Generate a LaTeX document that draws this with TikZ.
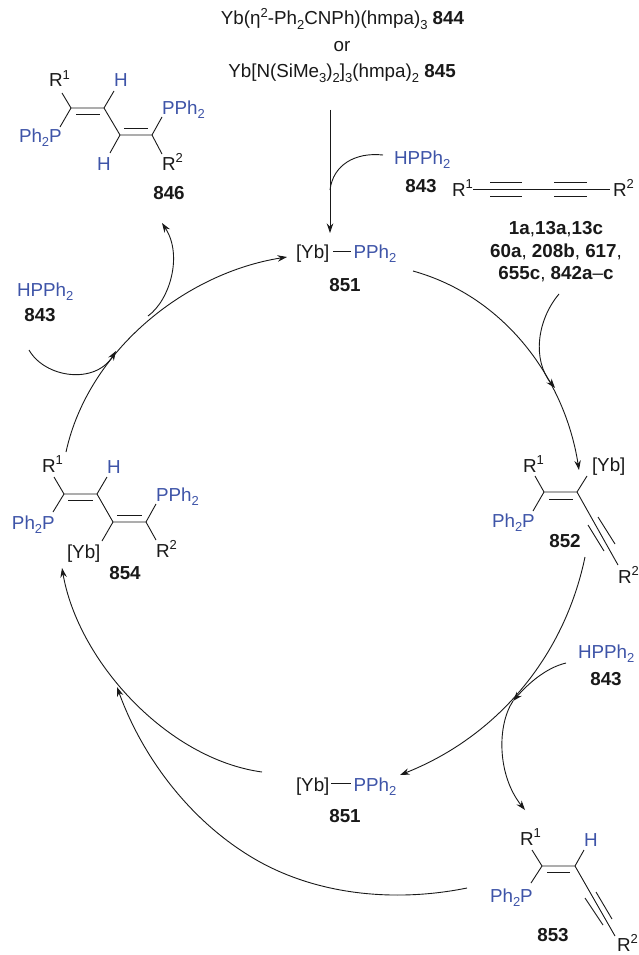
\documentclass[tikz,border=0pt]{standalone}
\usepackage{fontspec}
\setmainfont{Liberation Sans}
\usetikzlibrary{arrows.meta}
\definecolor{pblue}{RGB}{62,84,168}
\definecolor{ink}{RGB}{25,25,25}
\newcommand{\Dn}[1]{\raisebox{-0.22em}{\fontsize{13}{13}\selectfont #1}}
\newcommand{\Up}[1]{\raisebox{0.42em}{\fontsize{13}{13}\selectfont #1}}
\newcommand{\PPh}{PPh\Dn{2}}
\newcommand{\PhP}{Ph\Dn{2}P}
\newcommand{\HPPh}{HPPh\Dn{2}}
\tikzset{
  txt/.style={inner sep=0pt,outer sep=0pt,anchor=base west,text=ink,font=\fontsize{18.8}{21}\selectfont},
  ctr/.style={txt,anchor=base},
  phos/.style={txt,text=pblue},
  cmpd/.style={txt,anchor=base,font=\fontsize{18.8}{21}\selectfont\bfseries},
  bond/.style={draw=ink,line width=0.9pt},
  cyc/.style={draw=ink,line width=0.9pt,-{Stealth[length=9.5pt,width=6.5pt]}},
  plain/.style={draw=ink,line width=0.9pt}
}
\begin{document}
\begin{tikzpicture}[x=1pt,y=-1pt]
\useasboundingbox (0,0) rectangle (638,955);
\fill[white] (0,0) rectangle (638,955);

% ---------- reagents at top
\node[ctr] (catA) at (342.5,25) {Yb(η\Up{2}-Ph\Dn{2}CNPh)(hmpa)\Dn{3} \textbf{844}};
\node[ctr] (orword) at (342,51.5) {or};
\node[ctr] (catB) at (342,78) {Yb[N(SiMe\Dn{3})\Dn{2}]\Dn{3}(hmpa)\Dn{2} \textbf{845}};

% ---------- 846
\coordinate (a1) at (71,108); \coordinate (a2) at (104,108);
\coordinate (a3) at (120,135); \coordinate (a4) at (152,135);
\coordinate (a1r) at (62,93); \coordinate (a1p) at (60,127);
\coordinate (a2h) at (114,91); \coordinate (a3h) at (110,153);
\coordinate (a4p) at (162,117); \coordinate (a4r) at (162,154);
\coordinate (a5) at (76,114); \coordinate (a6) at (100,114);
\coordinate (a7) at (124,128); \coordinate (a8) at (148,128);
\node[txt] (aR1) at (49,87) {R\Up{1}};
\node[phos] (aH1) at (114,87) {H};
\node[phos] (aH2) at (97,170) {H};
\node[phos] (aP1) at (19,142.5) {\PhP};
\node[phos] (aP2) at (162,114) {\PPh};
\node[txt] (aR2) at (162,170) {R\Up{2}};
\node[cmpd] (l846) at (169,199) {846};
\draw[bond] (a1r)--(a1)--(a2)--(a3)--(a4)--(a4r);
\draw[bond] (a1)--(a1p); \draw[bond] (a2)--(a2h); \draw[bond] (a3)--(a3h); \draw[bond] (a4)--(a4p);
\draw[bond] (a5)--(a6); \draw[bond] (a7)--(a8);

% ---------- 851 top
\node[txt] (ybT) at (296,258) {[Yb]};
\node[phos] (pT) at (353.5,258) {\PPh};
\node[cmpd] (l851a) at (345,291) {851};
\coordinate (ybTe) at (333,251); \coordinate (pTw) at (351,251);
\draw[bond] (ybTe)--(pTw);

% ---------- 843 top right and diyne
\node[phos] (hpR) at (394,164) {\HPPh};
\node[cmpd] (l843a) at (421,192) {843};
\node[txt] (dR1) at (452,196) {R\Up{1}};
\node[txt] (dR2) at (613,196) {R\Up{2}};
\coordinate (d1) at (473,189); \coordinate (d2) at (610,189);
\draw[bond] (d1)--(d2);
\coordinate (t1) at (490,182); \coordinate (t2) at (522,182);
\coordinate (t3) at (490,196); \coordinate (t4) at (522,196);
\coordinate (t5) at (554,182); \coordinate (t6) at (587,182);
\coordinate (t7) at (554,196); \coordinate (t8) at (587,196);
\draw[bond] (t1)--(t2); \draw[bond] (t3)--(t4); \draw[bond] (t5)--(t6); \draw[bond] (t7)--(t8);
\node[cmpd] (lsub1) at (556,234.5) {1a\textmd{,}13a\textmd{,}13c};
\node[cmpd] (lsub2) at (556,257) {60a\textmd{,} 208b\textmd{,} 617\textmd{,}};
\node[cmpd] (lsub3) at (556,279.5) {655c\textmd{,} 842a\textmd{–}c};

% ---------- 852
\coordinate (b1) at (544,492); \coordinate (b2) at (577,492);
\coordinate (b1r) at (535,476); \coordinate (b1p) at (533,511);
\coordinate (b2y) at (587,476); \coordinate (b3) at (618,565);
\coordinate (b4) at (549,499); \coordinate (b5) at (573,499);
\coordinate (b6) at (588,525); \coordinate (b7) at (604,551);
\coordinate (b8) at (598,517); \coordinate (b9) at (615,544);
\node[txt] (bR1) at (523,472) {R\Up{1}};
\node[txt] (bYb) at (592,471) {[Yb]};
\node[phos] (bP) at (492,527) {\PhP};
\node[txt] (bR2) at (618,583) {R\Up{2}};
\node[cmpd] (l852) at (565,547) {852};
\draw[bond] (b1r)--(b1)--(b2)--(b2y); \draw[bond] (b1)--(b1p); \draw[bond] (b2)--(b3);
\draw[bond] (b4)--(b5); \draw[bond] (b6)--(b7); \draw[bond] (b8)--(b9);

% ---------- 843 lower right
\node[phos] (hpS) at (578,658) {\HPPh};
\node[cmpd] (l843b) at (606,685) {843};

% ---------- 851 lower
\node[txt] (ybB) at (296,791) {[Yb]};
\node[phos] (pB) at (353.5,791) {\PPh};
\node[cmpd] (l851b) at (345,822) {851};
\coordinate (ybBe) at (331,783); \coordinate (pBw) at (351,783);
\draw[bond] (ybBe)--(pBw);

% ---------- 853
\coordinate (c1) at (542,866); \coordinate (c2) at (575,866);
\coordinate (c1r) at (532,850); \coordinate (c1p) at (531,883);
\coordinate (c2h) at (584,850); \coordinate (c3) at (615,936);
\coordinate (c4) at (547,872); \coordinate (c5) at (570,872);
\coordinate (c6) at (585,898); \coordinate (c7) at (603,925);
\coordinate (c8) at (596,892); \coordinate (c9) at (612,919);
\node[txt] (cR1) at (520,845) {R\Up{1}};
\node[phos] (cH) at (584,846) {H};
\node[phos] (cP) at (490,902) {\PhP};
\node[txt] (cR2) at (617,951) {R\Up{2}};
\node[cmpd] (l853) at (553,941) {853};
\draw[bond] (c1r)--(c1)--(c2)--(c2h); \draw[bond] (c1)--(c1p); \draw[bond] (c2)--(c3);
\draw[bond] (c4)--(c5); \draw[bond] (c6)--(c7); \draw[bond] (c8)--(c9);

% ---------- 854
\coordinate (e1) at (64,494); \coordinate (e2) at (97,494);
\coordinate (e3) at (113,522); \coordinate (e4) at (146,522);
\coordinate (e1r) at (54,477); \coordinate (e1p) at (53,512);
\coordinate (e2h) at (107,477); \coordinate (e3y) at (102,541);
\coordinate (e4p) at (156,504); \coordinate (e4r) at (156,540);
\coordinate (e5) at (68,500); \coordinate (e6) at (93,500);
\coordinate (e7) at (117,515); \coordinate (e8) at (142,515);
\node[txt] (eR1) at (42,472) {R\Up{1}};
\node[phos] (eH) at (107,473) {H};
\node[phos] (eP1) at (12,529) {\PhP};
\node[phos] (eP2) at (156,501) {\PPh};
\node[txt] (eR2) at (156,557) {R\Up{2}};
\node[txt] (eYb) at (67,558) {[Yb]};
\node[cmpd] (l854) at (125,579) {854};
\draw[bond] (e1r)--(e1)--(e2)--(e3)--(e4)--(e4r);
\draw[bond] (e1)--(e1p); \draw[bond] (e2)--(e2h); \draw[bond] (e3)--(e3y); \draw[bond] (e4)--(e4p);
\draw[bond] (e5)--(e6); \draw[bond] (e7)--(e8);

% ---------- 843 left
\node[phos] (hpL) at (17,296) {\HPPh};
\node[cmpd] (l843c) at (40,321) {843};

% ---------- arrows
\coordinate (v1) at (330,110); \coordinate (v2) at (330,233);
\draw[cyc] (v1)--(v2);
\coordinate (w1) at (383,155); \coordinate (w2) at (330,190);
\draw[plain] (w1) .. controls (355,152) and (333,165) .. (w2);

\coordinate (r1) at (413,271); \coordinate (r2) at (579,470);
\draw[cyc] (r1) .. controls (506,297) and (565,380) .. (r2);
\coordinate (s1) at (559,294); \coordinate (s2) at (555,388);
\draw[cyc] (s1) .. controls (537,320) and (532,360) .. (s2);

\coordinate (f1) at (585,557); \coordinate (f2) at (400,775);
\draw[cyc] (f1) .. controls (564,658) and (496,737) .. (f2);
\coordinate (g1) at (566,663); \coordinate (g2) at (513,701); \coordinate (g3) at (525,810);
\draw[cyc] (g1) .. controls (545,668) and (527,685) .. (g2);
\draw[cyc] (g2) .. controls (497,725) and (497,775) .. (g3);

\coordinate (k1) at (262,772); \coordinate (k2) at (62,568);
\draw[cyc] (k1) .. controls (167,759) and (78,661) .. (k2);
\coordinate (m1) at (467,888); \coordinate (m2) at (260,862); \coordinate (m3) at (117,687);
\draw[cyc] (m1) .. controls (398,902) and (322,896) .. (m2) .. controls (193,825) and (143,759) .. (m3);

\coordinate (n1) at (66,452); \coordinate (n2) at (287,257);
\draw[cyc] (n1) .. controls (88,351) and (185,273) .. (n2);
\coordinate (o1) at (29,350); \coordinate (o2) at (116,351);
\draw[cyc] (o1) .. controls (45,378) and (95,385) .. (o2);
\coordinate (q1) at (148,316); \coordinate (q2) at (162,223);
\draw[cyc] (q1) .. controls (170,300) and (183,255) .. (q2);
\end{tikzpicture}
\end{document}
